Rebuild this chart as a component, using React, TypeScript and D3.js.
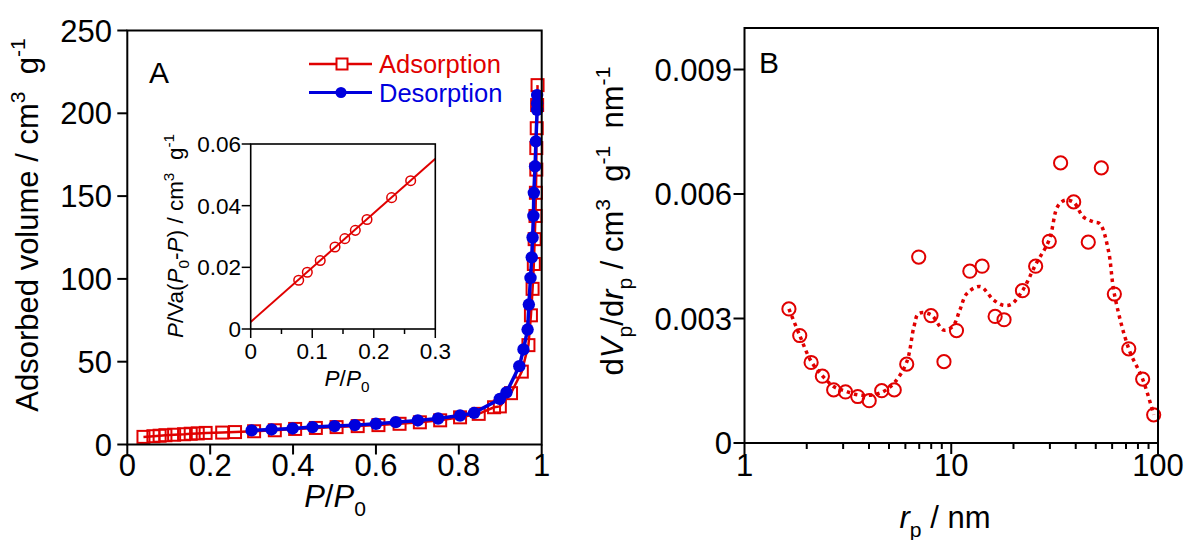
import React from 'react';
import * as d3 from 'd3';

// ---------- Panel A: N2 isotherm ----------
const ADS_P = [0.039, 0.063, 0.078, 0.092, 0.113, 0.137, 0.153, 0.170, 0.189, 0.229, 0.260, 0.306, 0.356, 0.405, 0.455, 0.505, 0.556, 0.606, 0.657, 0.706, 0.755, 0.803, 0.848, 0.885, 0.899, 0.926, 0.952, 0.968, 0.974, 0.978, 0.981, 0.983, 0.985, 0.986, 0.987, 0.987, 0.988, 0.989, 0.990];
const ADS_V = [4.6, 5.0, 5.3, 5.6, 5.9, 6.2, 6.5, 6.7, 7.0, 7.2, 7.5, 8.0, 8.6, 9.4, 10.0, 10.5, 11.1, 11.7, 12.5, 13.4, 14.6, 16.4, 18.5, 22.5, 23.0, 31, 44, 60, 78, 94, 109, 124, 138, 152, 166, 179, 191, 205, 217];
const DES_P = [0.300, 0.348, 0.399, 0.447, 0.500, 0.549, 0.600, 0.648, 0.701, 0.750, 0.803, 0.837, 0.899, 0.915, 0.946, 0.956, 0.966, 0.969, 0.973, 0.976, 0.978, 0.980, 0.981, 0.984, 0.986, 0.989, 0.989, 0.989];
const DES_V = [8.5, 9.1, 9.7, 10.5, 11.1, 11.7, 12.5, 13.5, 14.5, 15.7, 17.5, 19.1, 27.5, 31.5, 47.3, 57.4, 69.4, 84.5, 100.6, 113, 125, 138, 152, 168, 183, 202, 206, 211];
const A_XTICKS = [0, 0.2, 0.4, 0.6, 0.8, 1];
const A_YTICKS = [0, 50, 100, 150, 200, 250];

// ---------- Inset: BET plot ----------
const BET_P = [0.078, 0.092, 0.113, 0.137, 0.153, 0.170, 0.189, 0.229, 0.260];
const BET_Y = [0.0158, 0.0184, 0.0222, 0.0266, 0.0293, 0.0320, 0.0355, 0.0426, 0.0481];
const FIT_P = [0, 0.3];
const FIT_Y = [0.0023, 0.0552];
const IN_XTICKS = [0, 0.1, 0.2, 0.3];
const IN_XMINOR = [0.05, 0.15, 0.25];
const IN_YTICKS = [0, 0.02, 0.04, 0.06];

// ---------- Panel B: pore size distribution ----------
const PSD_R = [1.64, 1.85, 2.10, 2.38, 2.70, 3.08, 3.53, 4.01, 4.61, 5.30, 6.09, 6.96, 7.98, 9.22, 10.6, 12.3, 14.1, 16.3, 18.0, 22.1, 25.6, 29.8, 33.8, 39.1, 46.0, 53.2, 61.5, 72.2, 84.3, 95.3];
const PSD_V = [0.00323, 0.00259, 0.00194, 0.00161, 0.00128, 0.00123, 0.00112, 0.00102, 0.00126, 0.00128, 0.00190, 0.00448, 0.00307, 0.00196, 0.00271, 0.00414, 0.00426, 0.00305, 0.00297, 0.00367, 0.00426, 0.00486, 0.00675, 0.00581, 0.00484, 0.00663, 0.00359, 0.00227, 0.00154, 0.00068];
const SMOOTH_R = [1.64, 1.85, 2.10, 2.38, 2.70, 3.08, 3.53, 4.01, 4.61, 5.30, 6.09, 6.6, 6.96, 7.98, 9.2, 10.2, 11.0, 11.9, 13.8, 16.0, 17.8, 19.5, 22.1, 25.6, 29.8, 32.7, 35.5, 39.1, 43.5, 48.7, 52.4, 57.5, 61.5, 72.2, 84.3, 95.3];
const SMOOTH_V = [0.00323, 0.00259, 0.00197, 0.00162, 0.00136, 0.00125, 0.00116, 0.00115, 0.00122, 0.00145, 0.00195, 0.0028, 0.00312, 0.00309, 0.00272, 0.00282, 0.0032, 0.0036, 0.00377, 0.00345, 0.00332, 0.00334, 0.00367, 0.0043, 0.0049, 0.0057, 0.00585, 0.0058, 0.00545, 0.00533, 0.00528, 0.00465, 0.00359, 0.00227, 0.00154, 0.00068];
const B_XTICKS = [1, 10, 100];
const B_XMINOR = [2, 3, 4, 5, 6, 7, 8, 9, 20, 30, 40, 50, 60, 70, 80, 90];
const B_YTICKS = [0, 0.003, 0.006, 0.009];

const RED = '#e00000';
const BLUE = '#0000dd';
const FONT = 'Liberation Sans, Arial, sans-serif';

type Seg = { t: string; i?: boolean; sub?: boolean; sup?: boolean };
function rich(segs: Seg[], fs: number) {
  let cur = 0;
  return segs.map((s, k) => {
    const target = s.sup ? -0.42 * fs : s.sub ? 0.28 * fs : 0;
    const dy = target - cur;
    cur = target;
    return (
      <tspan key={k} dy={dy} fontStyle={s.i ? 'italic' : 'normal'} fontSize={s.sup || s.sub ? fs * 0.68 : fs}>
        {s.t}
      </tspan>
    );
  });
}

export default function App() {
  // Panel A scales
  const ax = d3.scaleLinear().domain([0, 1]).range([127.3, 541.7]);
  const ay = d3.scaleLinear().domain([0, 250]).range([444.5, 30.5]);
  // Inset scales
  const ix = d3.scaleLinear().domain([0, 0.3]).range([250.7, 435.3]);
  const iy = d3.scaleLinear().domain([0, 0.06]).range([329, 144]);
  // Panel B scales
  const bx = d3.scaleLog().domain([1, 100]).range([744.5, 1158]);
  const by = d3.scaleLinear().domain([0, 0.01]).range([443, 28]);

  const lineA = d3.line<[number, number]>().x(d => ax(d[0])).y(d => ay(d[1]));
  const adsPts: [number, number][] = ADS_P.map((p, k) => [p, ADS_V[k]]);
  const desPts: [number, number][] = DES_P.map((p, k) => [p, DES_V[k]]);

  const fitLine = d3.line<[number, number]>().x(d => ix(d[0])).y(d => iy(d[1]));
  const fitPts: [number, number][] = FIT_P.map((p, k) => [p, FIT_Y[k]]);

  const smoothLine = d3
    .line<[number, number]>()
    .x(d => bx(d[0]))
    .y(d => by(d[1]))
    .curve(d3.curveCatmullRom.alpha(0.5));
  const smoothPts: [number, number][] = SMOOTH_R.map((r, k) => [r, SMOOTH_V[k]]);

  const fs = 31;
  const tfs = 31;
  const sq = 12;
  const ifs = 22.5;

  return (
    <svg width={1188} height={540} style={{ position: 'absolute', left: 0, top: 0, background: '#fff' }} fontFamily={FONT}>
      <rect x={0} y={0} width={1188} height={540} fill="#fff" />

      {/* ================= Panel A ================= */}
      <g>
        {A_XTICKS.map(t => (
          <g key={'ax' + t}>
            <line x1={ax(t)} x2={ax(t)} y1={ay(0)} y2={ay(0) + 10} stroke="#000" strokeWidth={2} />
            <text x={ax(t)} y={476} textAnchor="middle" fontSize={fs}>{String(t)}</text>
          </g>
        ))}
        {A_YTICKS.map(t => (
          <g key={'ay' + t}>
            <line x1={ax(0) - 10} x2={ax(0)} y1={ay(t)} y2={ay(t)} stroke="#000" strokeWidth={2} />
            <text x={112} y={ay(t) + 11} textAnchor="end" fontSize={fs}>{String(t)}</text>
          </g>
        ))}
        <path d={lineA(adsPts) || ''} fill="none" stroke={RED} strokeWidth={2.5} />
        {adsPts.map((d, k) => (
          <rect key={'as' + k} x={ax(d[0]) - sq / 2} y={ay(d[1]) - sq / 2} width={sq} height={sq} fill="none" stroke={RED} strokeWidth={2} />
        ))}
        <path d={lineA(desPts) || ''} fill="none" stroke={BLUE} strokeWidth={3.5} />
        {desPts.map((d, k) => (
          <circle key={'dc' + k} cx={ax(d[0])} cy={ay(d[1])} r={6.2} fill={BLUE} />
        ))}
        <rect x={ax(0)} y={ay(250)} width={ax(1) - ax(0)} height={ay(0) - ay(250)} fill="none" stroke="#000" strokeWidth={2} />

        <text x={149} y={83} fontSize={30}>A</text>

        {/* legend */}
        <line x1={309} x2={372} y1={64} y2={64} stroke={RED} strokeWidth={2.5} />
        <rect x={336.5} y={58.5} width={11} height={11} fill="#fff" stroke={RED} strokeWidth={2} />
        <text x={379} y={73} fontSize={25.5} fill={RED}>Adsorption</text>
        <line x1={309} x2={372} y1={92.5} y2={92.5} stroke={BLUE} strokeWidth={3} />
        <circle cx={341} cy={92.5} r={5.5} fill={BLUE} />
        <text x={379} y={102} fontSize={25.5} fill={BLUE}>Desorption</text>

        <text transform="translate(38,225) rotate(-90)" textAnchor="middle" fontSize={tfs} style={{ whiteSpace: 'pre' }}>
          {rich([{ t: 'Adsorbed volume / cm' }, { t: '3', sup: true }, { t: '  g' }, { t: '-1', sup: true }], tfs)}
        </text>
        <text x={335} y={507} textAnchor="middle" fontSize={tfs} style={{ whiteSpace: 'pre' }}>
          {rich([{ t: 'P', i: true }, { t: '/' }, { t: 'P', i: true }, { t: '0', sub: true }], tfs)}
        </text>
      </g>

      {/* ================= Inset ================= */}
      <g>
        <rect x={ix(0)} y={iy(0.06)} width={ix(0.3) - ix(0)} height={iy(0) - iy(0.06)} fill="#fff" stroke="none" />
        {IN_XTICKS.map(t => (
          <g key={'ix' + t}>
            <line x1={ix(t)} x2={ix(t)} y1={iy(0)} y2={iy(0) + 9} stroke="#000" strokeWidth={1.5} />
            <text x={ix(t)} y={359} textAnchor="middle" fontSize={ifs}>{String(t)}</text>
          </g>
        ))}
        {IN_XMINOR.map(t => (
          <line key={'ixm' + t} x1={ix(t)} x2={ix(t)} y1={iy(0)} y2={iy(0) + 5} stroke="#000" strokeWidth={1.5} />
        ))}
        {IN_YTICKS.map(t => (
          <g key={'iy' + t}>
            <line x1={ix(0) - 9} x2={ix(0)} y1={iy(t)} y2={iy(t)} stroke="#000" strokeWidth={1.5} />
            <text x={241} y={iy(t) + 8} textAnchor="end" fontSize={ifs}>{String(t)}</text>
          </g>
        ))}
        <path d={fitLine(fitPts) || ''} fill="none" stroke={RED} strokeWidth={2} />
        {BET_P.map((p, k) => (
          <circle key={'bet' + k} cx={ix(p)} cy={iy(BET_Y[k])} r={4.8} fill="none" stroke={RED} strokeWidth={1.5} />
        ))}
        <rect x={ix(0)} y={iy(0.06)} width={ix(0.3) - ix(0)} height={iy(0) - iy(0.06)} fill="none" stroke="#000" strokeWidth={1.6} />
        <text transform="translate(183,236) rotate(-90)" textAnchor="middle" fontSize={ifs} style={{ whiteSpace: 'pre' }}>
          {rich([
            { t: 'P', i: true }, { t: '/Va(' }, { t: 'P', i: true }, { t: '0', sub: true }, { t: '-' }, { t: 'P', i: true }, { t: ') / cm' },
            { t: '3', sup: true }, { t: '  g' }, { t: '-1', sup: true },
          ], ifs)}
        </text>
        <text x={347} y={386} textAnchor="middle" fontSize={ifs} style={{ whiteSpace: 'pre' }}>
          {rich([{ t: 'P', i: true }, { t: '/' }, { t: 'P', i: true }, { t: '0', sub: true }], ifs)}
        </text>
      </g>

      {/* ================= Panel B ================= */}
      <g>
        {B_XTICKS.map(t => (
          <g key={'bx' + t}>
            <line x1={bx(t)} x2={bx(t)} y1={by(0)} y2={by(0) + 11} stroke="#000" strokeWidth={2} />
            <text x={bx(t)} y={476} textAnchor="middle" fontSize={fs}>{String(t)}</text>
          </g>
        ))}
        {B_XMINOR.map(t => (
          <line key={'bxm' + t} x1={bx(t)} x2={bx(t)} y1={by(0)} y2={by(0) + 6} stroke="#000" strokeWidth={2} />
        ))}
        {B_YTICKS.map(t => (
          <g key={'by' + t}>
            <line x1={bx(1) - 11} x2={bx(1)} y1={by(t)} y2={by(t)} stroke="#000" strokeWidth={2} />
            <text x={732} y={by(t) + 11} textAnchor="end" fontSize={fs}>{String(t)}</text>
          </g>
        ))}
        <path d={smoothLine(smoothPts) || ''} fill="none" stroke={RED} strokeWidth={3.5} strokeDasharray="3.5,4" />
        {PSD_R.map((r, k) => (
          <circle key={'psd' + k} cx={bx(r)} cy={by(PSD_V[k])} r={6.6} fill="none" stroke={RED} strokeWidth={2} />
        ))}
        <rect x={bx(1)} y={by(0.01)} width={bx(100) - bx(1)} height={by(0) - by(0.01)} fill="none" stroke="#000" strokeWidth={2} />
        <text x={759} y={73} fontSize={30}>B</text>

        <text transform="translate(623,221) rotate(-90)" textAnchor="middle" fontSize={31} style={{ whiteSpace: 'pre' }}>
          {rich([
            { t: 'd' }, { t: 'V', i: true }, { t: 'p', sub: true }, { t: '/d' }, { t: 'r', i: true }, { t: 'p', sub: true },
            { t: ' / cm' }, { t: '3', sup: true }, { t: '  g' }, { t: '-1', sup: true }, { t: '  nm' }, { t: '-1', sup: true },
          ], 31)}
        </text>
        <text x={945} y={528} textAnchor="middle" fontSize={tfs} style={{ whiteSpace: 'pre' }}>
          {rich([{ t: 'r', i: true }, { t: 'p', sub: true }, { t: ' / nm' }], tfs)}
        </text>
      </g>
    </svg>
  );
}
